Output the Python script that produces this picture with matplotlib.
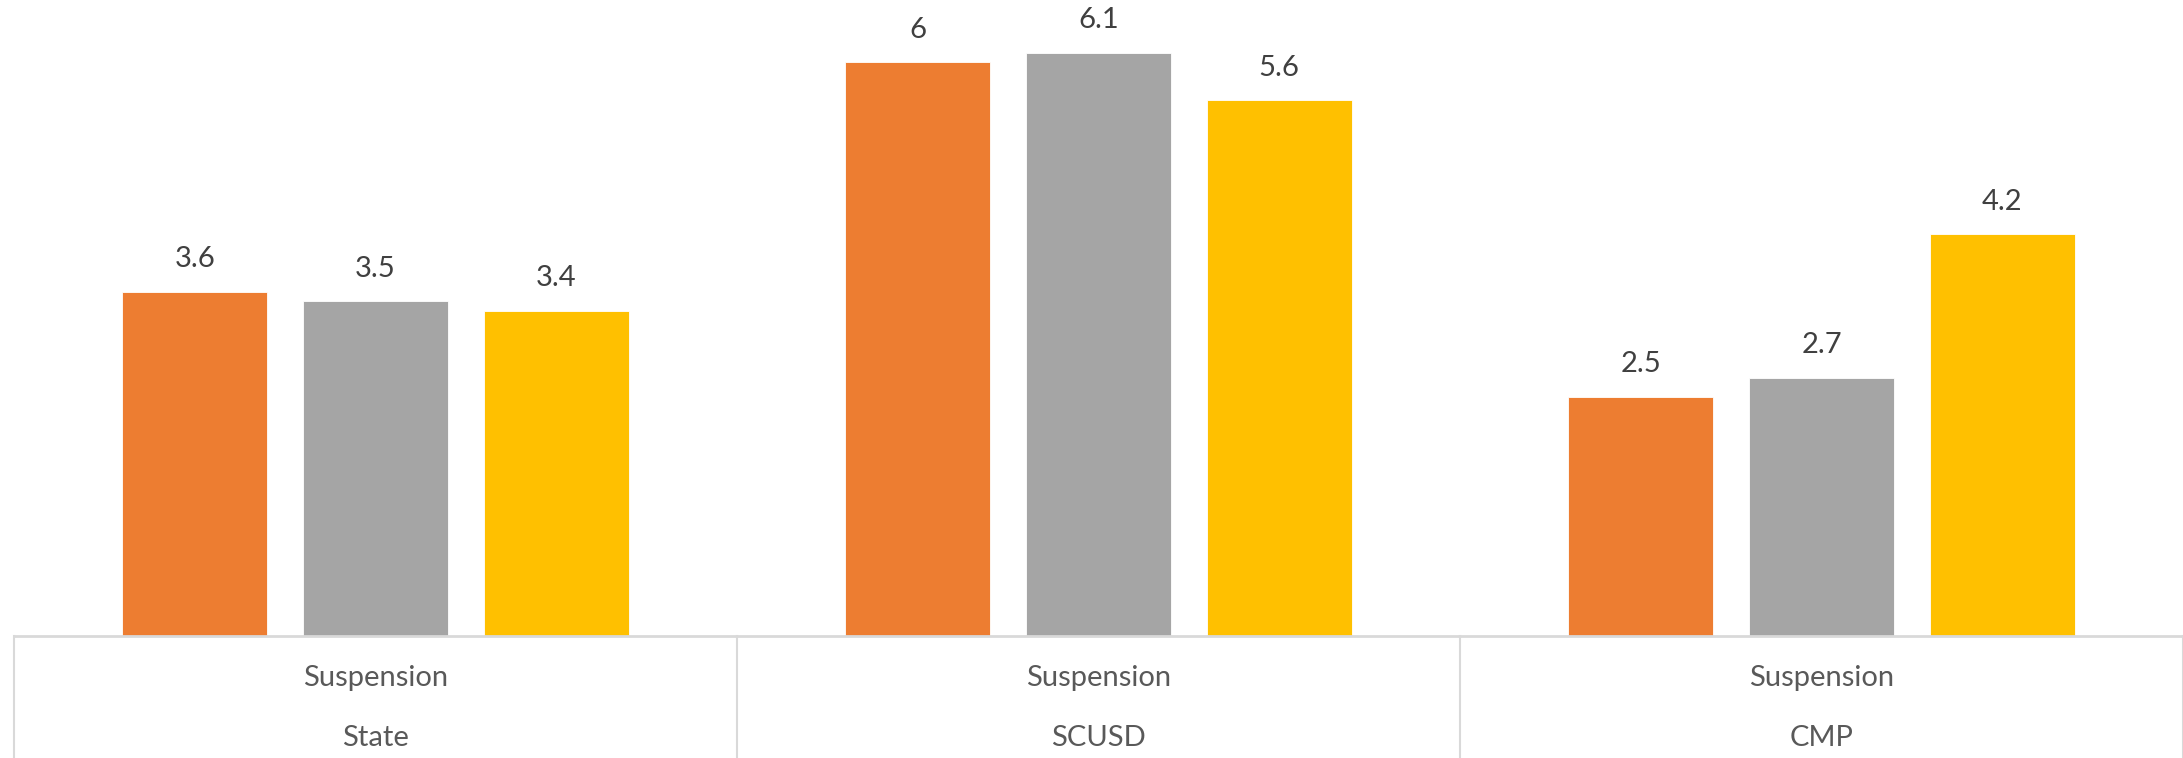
import matplotlib.pyplot as plt
import numpy as np

plt.rcParams["font.family"] = ["Lato", "DejaVu Sans"]

# data
groups = ["State", "SCUSD", "CMP"]
measure = "Suspension"
series_a = [3.6, 6, 2.5]
series_b = [3.5, 6.1, 2.7]
series_c = [3.4, 5.6, 4.2]
colors = ["#ED7D31", "#A5A5A5", "#FFC000"]

W, H = 2183, 758
fig = plt.figure(figsize=(W / 100, H / 100), dpi=100)
base_px = 636
ax = fig.add_axes([14 / W, (H - base_px) / H, 1 - 14 / W, base_px / H])

x = np.arange(len(groups))
width = 0.2
offsets = [-0.25, 0, 0.25]
for vals, off, col in zip([series_a, series_b, series_c], offsets, colors):
    bars = ax.bar(x + off, vals, width, color=col, edgecolor="white", linewidth=0.6)
    for b, v in zip(bars, vals):
        ax.annotate(f"{v:g}", (b.get_x() + b.get_width() / 2, v),
                    xytext=(0, 14), textcoords="offset points",
                    ha="center", va="bottom", fontsize=21, color="#404040")

ax.set_xlim(-0.5, len(groups) - 0.5)
ax.set_ylim(0, 6.65)
ax.axis("off")

# category table below the axis
tr = ax.get_xaxis_transform()
line_col = "#D9D9D9"
ax.plot([-0.5, len(groups) - 0.5], [0, 0], transform=tr, color=line_col, lw=2, clip_on=False)
for xb in np.arange(len(groups) + 1) - 0.5:
    ax.plot([xb, xb], [0, -0.3], transform=tr, color=line_col, lw=1.5, clip_on=False)
for xi, g in zip(x, groups):
    ax.text(xi, -42 / base_px, measure, transform=tr, ha="center", va="center",
            fontsize=21, color="#595959")
    ax.text(xi, -102 / base_px, g, transform=tr, ha="center", va="center",
            fontsize=21, color="#595959")

fig.savefig("out.png", dpi=100)
